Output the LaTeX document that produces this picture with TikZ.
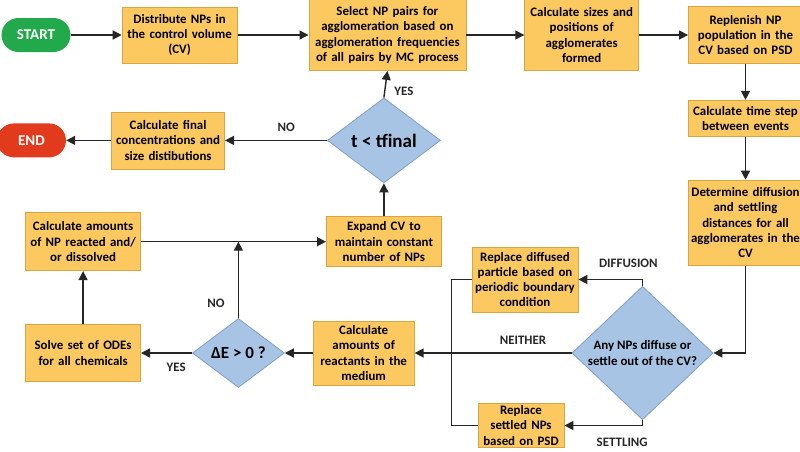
\documentclass[tikz,border=0pt]{standalone}
\usepackage{fontspec}
\setmainfont{Carlito}
\usetikzlibrary{positioning,shapes.geometric,arrows.meta}
\definecolor{boxfill}{HTML}{FBC960}
\definecolor{boxline}{HTML}{D9A441}
\definecolor{decfill}{HTML}{A8C4E4}
\definecolor{decline}{HTML}{7F9EC8}
\definecolor{startgreen}{HTML}{22A94B}
\definecolor{endred}{HTML}{E23A1C}
\definecolor{flowline}{HTML}{262626}

\begin{document}
\begin{tikzpicture}[x=1pt,y=-1pt,
	procb/.style={
	  draw=boxline,
	  fill=boxfill,
	  line width=0.8pt,
	  inner sep=2pt,
	  align=center,
	  font=\fontsize{12.9}{15.2}\selectfont\bfseries
	},
	decb/.style={
	  diamond,
	  draw=decline,
	  fill=decfill,
	  line width=0.8pt,
	  inner sep=0pt,
	  align=center,
	  font=\fontsize{12.9}{15.2}\selectfont\bfseries
	},
	termb/.style={
	  rounded corners=17pt,
	  text=white,
	  minimum width=69pt,
	  minimum height=34pt,
	  inner sep=0pt,
	  font=\fontsize{15}{18}\selectfont\bfseries
	},
	flow/.style={
	  draw=flowline,
	  line width=1.4pt,
	  -{Triangle[length=9pt,width=9pt]}
	},
	lbl/.style={
	  inner sep=1pt,
	  text=flowline,
	  font=\fontsize{12.9}{15.2}\selectfont\bfseries
	}]

	\useasboundingbox (0,0) rectangle (800,451);

	\node[termb,fill=startgreen] (Start) at (36,35) {START};
	\node[procb,right=51pt of Start,text width=111pt,minimum height=56pt] (Distribute) {Distribute NPs in\\the control volume\\(CV)};
	\node[procb,right=71pt of Distribute,text width=153pt,minimum height=71pt] (Select) {Select NP pairs for\\agglomeration based on\\agglomeration frequencies\\of all pairs by MC process};
	\node[procb,right=58pt of Select,text width=110pt,minimum height=71pt] (Sizes) {Calculate sizes and\\positions of\\agglomerates\\formed};
	\node[procb,right=49pt of Sizes,text width=110pt,minimum height=57pt] (Replenish) {Replenish NP\\population in the\\CV based on PSD};
	\node[procb,below=36pt of Replenish,text width=110pt,minimum height=36pt] (TimeStep) {Calculate time step\\between events};
	\node[procb,below=43pt of TimeStep,text width=110pt,minimum height=85pt] (Determine) {Determine diffusion\\and settling\\distances for all\\agglomerates in the\\CV};

	\node[decb,minimum width=141pt,minimum height=108pt] (AnyNP) at (642.5,353) {Any NPs diffuse or\\settle out of the CV?};
	\node[procb,text width=102pt,minimum height=65pt] (Diffused) at (525,279.5) {Replace diffused\\particle based on\\periodic boundary\\condition};
	\node[procb,text width=82pt,minimum height=43pt] (Settled) at (521,425.5) {Replace\\settled NPs\\based on PSD};

	\node[procb,left=157pt of AnyNP,text width=97pt,minimum height=64pt] (Reactants) {Calculate\\amounts of\\reactants in the\\medium};
	\node[decb,left=28pt of Reactants,minimum width=92pt,minimum height=69pt,font=\fontsize{17}{20}\selectfont\bfseries] (DeltaE) {ΔE > 0 ?};
	\node[procb,left=51pt of DeltaE,text width=111pt,minimum height=57pt] (Solve) {Solve set of ODEs\\for all chemicals};
	\node[procb,above=53pt of Solve,text width=111pt,minimum height=58pt] (Reacted) {Calculate amounts\\of NP reacted and/\\or dissolved};
	\node[procb,right=185pt of Reacted,text width=111pt,minimum height=50pt] (Expand) {Expand CV to\\maintain constant\\number of NPs};

	\node[decb,above=33pt of Expand,minimum width=113pt,minimum height=85pt,font=\fontsize{19}{22}\selectfont\bfseries] (TFinal) {t < tfinal};
	\node[procb,left=102pt of TFinal,text width=109pt,minimum height=57pt] (Final) {Calculate final\\concentrations and\\size distibutions};
	\node[termb,fill=endred,left=45pt of Final] (End) {END};

	\draw[flow] (Start) -- (Distribute);
	\draw[flow] (Distribute) -- (Select);
	\draw[flow] (Select) -- (Sizes);
	\draw[flow] (Sizes) -- (Replenish);
	\draw[flow] (Replenish) -- (TimeStep);
	\draw[flow] (TimeStep) -- (Determine);
	\draw[flow] (Determine.south) |- (AnyNP.east);
	\draw[flow] (AnyNP.north) |- node[lbl,pos=0.61,above=10pt] {DIFFUSION} (Diffused.east);
	\draw[flow] (AnyNP.south) |- node[lbl,pos=0.63,below=11pt] {SETTLING} (Settled.east);
	\draw[draw=flowline,line width=1.4pt] (Diffused.west) -- ++(-20,0) |- (Settled.west);
	\draw[flow] (AnyNP.west) -- node[lbl,pos=0.31,above=7pt] {NEITHER} (Reactants.east);
	\draw[flow] (Reactants) -- (DeltaE);
	\draw[flow] (DeltaE.west) -- node[lbl,pos=0.31,below=8pt] {YES} (Solve.east);
	\draw[flow] (Solve) -- (Reacted);
	\draw[flow] (Reacted) -- (Expand);
	\draw[flow] (DeltaE.north) -- node[lbl,pos=0.2,left=12pt] {NO} (DeltaE.north |- Reacted.east);
	\draw[flow] (Expand) -- (TFinal);
	\draw[flow] (TFinal.north) -- node[lbl,pos=0.25,right=8pt] {YES} (Select.south);
	\draw[flow] (TFinal.west) -- node[lbl,pos=0.4,above=7pt] {NO} (Final.east);
	\draw[flow] (Final) -- (End);
\end{tikzpicture}
\end{document}
